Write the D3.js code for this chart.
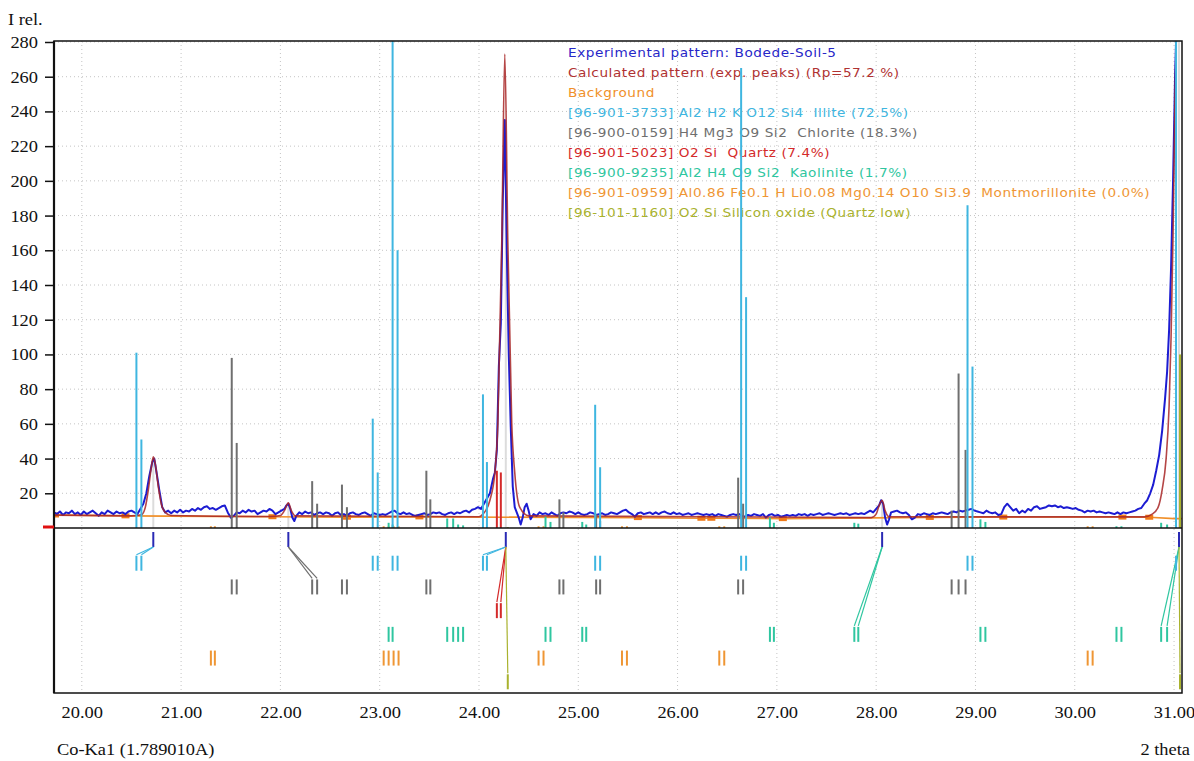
<!DOCTYPE html>
<html>
<head>
<meta charset="utf-8">
<script src="https://cdn.jsdelivr.net/npm/d3@7"></script>
<style>
  body { margin: 0; background: #fff; }
  svg { display: block; }
</style>
</head>
<body>
<div id="chart"></div>
<script>
// ---- data ----
const xTicks = [20, 21, 22, 23, 24, 25, 26, 27, 28, 29, 30, 31];
const yTicks = [20, 40, 60, 80, 100, 120, 140, 160, 180, 200, 220, 240, 260, 280];

// experimental pattern [2theta, I]
const experimental = [
  [19.72,9],[19.75,8],[19.78,9.5],[19.81,7.5],[19.84,9],[19.87,8.5],[19.90,10],[19.93,8],[19.96,9],[19.99,7.5],
  [20.02,9.5],[20.05,8],[20.08,9],[20.11,10],[20.14,8.5],[20.17,7],[20.20,9],[20.23,8],[20.26,10],[20.29,9],
  [20.32,8],[20.35,9.5],[20.38,8.5],[20.41,9],[20.44,8],[20.47,9.5],[20.50,10],[20.53,9],[20.56,8],[20.59,11],
  [20.62,14],[20.65,20],[20.68,30],[20.71,38],[20.73,40],[20.75,33],[20.78,22],[20.81,12],[20.84,9],[20.87,10],
  [20.90,8.5],[20.93,10],[20.96,9],[20.99,10.5],[21.02,9],[21.05,10],[21.08,9.5],[21.11,11],[21.14,10],[21.17,11.5],
  [21.20,10.5],[21.23,12],[21.26,12.5],[21.29,11],[21.32,11.5],[21.35,10.5],[21.38,11.5],[21.41,12.5],[21.44,13],[21.47,9],
  [21.50,6],[21.53,7],[21.56,9],[21.59,8.5],[21.62,10],[21.65,9],[21.68,10.5],[21.71,9.5],[21.74,10],[21.77,8],
  [21.80,9],[21.83,10],[21.86,9.5],[21.89,11],[21.92,10],[21.95,8],[21.98,9],[22.01,10],[22.04,11],[22.06,13],
  [22.08,14],[22.10,11],[22.12,6],[22.14,4],[22.16,7],[22.19,9],[22.22,8],[22.25,9.5],[22.28,8.5],[22.31,9],
  [22.34,7.5],[22.37,8.5],[22.40,9],[22.43,8],[22.46,9],[22.49,8.5],[22.52,7],[22.55,8.5],[22.58,9],[22.61,7.5],
  [22.64,8],[22.67,7],[22.70,8.5],[22.73,9],[22.76,8],[22.79,7.5],[22.82,8.5],[22.85,9],[22.88,8],[22.91,7],
  [22.94,8.5],[22.97,8],[23.00,7.5],[23.03,8],[23.06,7.5],[23.09,8.5],[23.12,9.5],[23.15,10],[23.18,8.5],[23.21,8],
  [23.24,9],[23.27,8],[23.30,8.5],[23.33,7.5],[23.36,7],[23.39,7.5],[23.42,8],[23.45,8.5],[23.48,7.5],[23.51,8],
  [23.54,9],[23.57,8.5],[23.60,9],[23.63,8],[23.66,7.5],[23.69,8.5],[23.72,9],[23.75,8],[23.78,9],[23.81,8.5],
  [23.84,9.5],[23.87,10],[23.90,9],[23.93,10.5],[23.96,11],[23.99,12],[24.02,11],[24.05,14],[24.08,17],[24.11,20],
  [24.14,28],[24.16,32],[24.18,45],[24.20,93],[24.22,118],[24.24,190],[24.26,235],[24.28,160],[24.30,100],[24.32,58],
  [24.34,24],[24.36,12],[24.38,9],[24.40,6],[24.42,2],[24.44,6],[24.46,12],[24.48,14],[24.50,10],[24.52,5],
  [24.55,8],[24.58,7],[24.61,9],[24.64,8],[24.67,8.5],[24.70,7.5],[24.73,9],[24.76,8],[24.79,7],[24.82,8.5],
  [24.85,9],[24.88,8.5],[24.91,9.5],[24.94,9],[24.97,8],[25.00,9],[25.03,8],[25.06,7.5],[25.09,8],[25.12,9],
  [25.15,8.5],[25.18,7.5],[25.21,8],[25.24,8.5],[25.27,7.5],[25.30,8],[25.33,9],[25.36,8.5],[25.39,8],[25.42,9],
  [25.45,10],[25.48,10.5],[25.51,9],[25.54,8],[25.57,6.5],[25.60,8.5],[25.63,9],[25.66,8],[25.69,8.5],[25.72,9],
  [25.75,8],[25.78,9],[25.81,8],[25.84,9],[25.87,9.5],[25.90,8.5],[25.93,8],[25.96,9],[25.99,8],[26.02,8.5],
  [26.05,7.5],[26.08,8],[26.11,8.5],[26.14,7.5],[26.17,8],[26.20,8.5],[26.23,8],[26.26,7.5],[26.29,8],[26.32,7.5],
  [26.35,8],[26.38,7],[26.41,8],[26.44,7.5],[26.47,7],[26.50,6.5],[26.53,7.5],[26.56,8],[26.59,7.5],[26.62,8],
  [26.65,7],[26.68,6.5],[26.71,7.5],[26.74,7],[26.77,8],[26.80,7.5],[26.83,7],[26.86,8],[26.89,6],[26.92,7.5],
  [26.95,8],[26.98,7],[27.01,7.5],[27.04,6.5],[27.07,7],[27.10,7.5],[27.13,7],[27.16,7.5],[27.19,7],[27.22,8],
  [27.25,7.5],[27.28,8],[27.31,7],[27.34,8],[27.37,7.5],[27.40,8],[27.43,8.5],[27.46,7.5],[27.49,8],[27.52,8.5],
  [27.55,8],[27.58,7.5],[27.61,8],[27.64,8.5],[27.67,8],[27.70,8.5],[27.73,7.5],[27.76,8],[27.79,8.5],[27.82,8],
  [27.85,8.5],[27.88,8],[27.91,9],[27.94,10],[27.97,9],[28.00,11],[28.03,13],[28.05,16],[28.07,14],[28.09,6],
  [28.11,2],[28.13,5],[28.15,9],[28.18,9.5],[28.21,10],[28.24,9],[28.27,8.5],[28.30,9],[28.33,7.5],[28.36,5],
  [28.39,6],[28.42,8],[28.45,7.5],[28.48,8.5],[28.51,8],[28.54,7.5],[28.57,8.5],[28.60,8],[28.63,8.5],[28.66,9],
  [28.69,8.5],[28.72,8],[28.75,9],[28.78,9.5],[28.81,9],[28.84,10],[28.87,9.5],[28.90,10],[28.93,10.5],[28.96,11],
  [28.99,10],[29.02,9.5],[29.05,9],[29.08,8.5],[29.11,10],[29.14,9],[29.17,8.5],[29.20,9],[29.23,7.5],[29.26,8],
  [29.29,12],[29.32,14],[29.35,12],[29.38,10],[29.41,11],[29.44,8.5],[29.47,10],[29.50,9],[29.53,11],[29.56,10],
  [29.59,12],[29.62,12.5],[29.65,11],[29.68,11.5],[29.71,12],[29.74,13],[29.77,12.5],[29.80,13],[29.83,12],[29.86,12.5],
  [29.89,11.5],[29.92,12],[29.95,11.5],[29.98,11],[30.01,11.5],[30.04,10.5],[30.07,10],[30.10,9],[30.13,10],[30.16,9.5],
  [30.19,10],[30.22,9],[30.25,9.5],[30.28,9],[30.31,8.5],[30.34,9],[30.37,8.5],[30.40,8],[30.43,9],[30.46,8],
  [30.49,9],[30.52,8.5],[30.55,9],[30.58,9.5],[30.61,10],[30.64,11],[30.67,11.5],[30.70,14],[30.73,16],[30.76,20],
  [30.79,25],[30.82,33],[30.85,42],[30.88,56],[30.91,75],[30.93,90],[30.95,114],[30.97,150],[30.99,200],[31.01,260],
  [31.03,300],[31.06,300]
];

// calculated pattern (exp. peaks)
const calculated = [
  [19.72,7.4],[20.50,7.0],[20.60,7.6],[20.64,12],[20.67,22],[20.70,35],[20.72,41],[20.74,37],[20.77,24],[20.80,14],
  [20.84,9],[20.90,7.2],[21.90,6.6],[22.00,7.2],[22.04,10],[22.08,14.5],[22.11,10],[22.15,7],[24.00,6.5],[24.04,8],
  [24.11,16],[24.16,32],[24.19,60],[24.23,166],[24.26,273],[24.29,166],[24.33,60],[24.36,32],[24.41,12],[24.50,7],
  [27.95,6],[28.00,8],[28.03,13],[28.06,16],[28.09,10],[28.13,6.5],[30.70,6.4],[30.78,8],[30.84,12],[30.88,22],
  [30.92,40],[30.95,70],[30.97,110],[30.99,170],[31.01,250],[31.03,300]
];

// background anchor points (drawn with square markers)
const background = [
  [19.73,7.5],[20.44,7.0],[21.92,6.5],[22.67,6.2],[23.40,6.4],[25.60,6.0],[26.24,5.6],[26.34,5.6],
  [27.06,5.4],[28.54,6.1],[29.28,6.3],[30.48,6.3],[30.75,6.2],[31.00,5.4],[31.08,5.4]
];

// reference phases: stick positions and relative intensities
const phaseNames = ["illite", "chlorite", "quartz", "kaolinite", "montmorillonite", "quartzLow"];
const phaseColors = ["#3fb6e0", "#6f6f6f", "#d42a2a", "#2fc6a0", "#ef9634", "#a9b22e"];
const illitePos = [20.55, 20.60, 22.93, 22.98, 23.13, 23.18, 24.04, 24.08, 25.17, 25.22, 26.64, 26.69, 28.92, 28.97, 31.02];
const illiteInt = [101, 51, 63, 32, 300, 160, 77, 38, 71, 35, 265, 133, 186, 93, 300];
const chloritePos = [21.51, 21.56, 22.32, 22.37, 22.62, 22.67, 23.47, 23.51, 24.81, 24.85, 25.18, 25.22, 26.61, 26.66, 28.76, 28.83, 28.90];
const chloriteInt = [98, 49, 27, 14, 25, 12, 33, 16.5, 16.5, 9, 8, 4, 29, 14, 10, 89, 45];
const quartzPos = [24.18, 24.22];
const quartzInt = [33, 32];
const kaolinitePos = [23.09, 23.13, 23.68, 23.74, 23.79, 23.84, 24.67, 24.72, 25.04, 25.08, 26.93, 26.97, 27.78, 27.82, 29.05, 29.10, 30.42, 30.47, 30.87, 30.93];
const kaoliniteInt = [3, 2, 5.5, 5.5, 2, 1.5, 6.5, 3.5, 3.5, 2, 6, 3, 3, 2.5, 5, 3.5, 1, 1, 3, 2];
const montPos = [21.30, 21.34, 23.04, 23.09, 23.14, 23.19, 24.60, 24.65, 25.44, 25.49, 26.42, 26.47, 30.13, 30.18];
const montInt = [1, 1, 1, 1, 1, 1, 1, 1, 1, 1, 1, 1, 1, 1];
const quartzLowPos = [24.29, 31.06];
const quartzLowInt = [0.5, 100];

// experimental peaks found and the reference lines they were matched to
const peakPos = [20.72, 22.08, 24.27, 28.06, 31.05];
const peakInt = [40, 14, 235, 16, 300];
const matches = [
  { peak: 20.72, phase: "illite", to: [20.55, 20.60] },
  { peak: 22.08, phase: "chlorite", to: [22.32, 22.37] },
  { peak: 24.27, phase: "illite", to: [24.04, 24.08] },
  { peak: 24.27, phase: "quartz", to: [24.18, 24.22] },
  { peak: 24.27, phase: "quartzLow", to: [24.29] },
  { peak: 28.06, phase: "kaolinite", to: [27.78, 27.82] },
  { peak: 31.05, phase: "kaolinite", to: [30.87, 30.93] },
  { peak: 31.05, phase: "quartzLow", to: [31.06] }
];

const legendLines = [
  "Experimental pattern: Bodede-Soil-5",
  "Calculated pattern (exp. peaks) (Rp=57.2 %)",
  "Background",
  "[96-901-3733] Al2 H2 K O12 Si4  Illite (72.5%)",
  "[96-900-0159] H4 Mg3 O9 Si2  Chlorite (18.3%)",
  "[96-901-5023] O2 Si  Quartz (7.4%)",
  "[96-900-9235] Al2 H4 O9 Si2  Kaolinite (1.7%)",
  "[96-901-0959] Al0.86 Fe0.1 H Li0.08 Mg0.14 O10 Si3.9  Montmorillonite (0.0%)",
  "[96-101-1160] O2 Si Silicon oxide (Quartz low)"
];
const legendColors = ["#2727c8", "#b03232", "#f0902a", "#3fb6e0", "#6f6f6f", "#d42a2a", "#2fc6a0", "#ef9634", "#a9b22e"];

// ---- layout ----
const W = 1194, H = 761;
const plot = { left: 54, right: 1182, top: 41, zero: 528, bottom: 693 };
const serif = "'Liberation Serif', 'Times New Roman', serif";
const sx = 1.15; // the original type is slightly wide

const svg = d3.select("#chart").append("svg").attr("width", W).attr("height", H);

const x = d3.scaleLinear().domain([19.72, 31.08]).range([plot.left, plot.right]);
const y = d3.scaleLinear().domain([0, 280]).range([plot.zero, 42]);

// bottom panel rows: found peaks, then one row per phase
const row = d3.scaleBand()
  .domain(["peaks"].concat(phaseNames))
  .range([plot.zero + 1, plot.bottom + 2]);
const tickLen = 15;

svg.append("clipPath").attr("id", "clipTop")
  .append("rect")
  .attr("x", plot.left).attr("y", plot.top)
  .attr("width", plot.right - plot.left).attr("height", plot.zero - plot.top);

// grid
const grid = svg.append("g").attr("stroke", "#c4c4c4").attr("stroke-dasharray", "1,3");
grid.selectAll("line.gx").data(xTicks).join("line")
  .attr("class", "gx")
  .attr("x1", (d) => x(d)).attr("x2", (d) => x(d))
  .attr("y1", plot.top).attr("y2", plot.bottom);
grid.selectAll("line.gy").data(yTicks).join("line")
  .attr("class", "gy")
  .attr("x1", plot.left).attr("x2", plot.right)
  .attr("y1", (d) => y(d)).attr("y2", (d) => y(d));

// legend (sits under the sticks)
svg.append("g")
  .selectAll("text").data(legendLines).join("text")
  .attr("transform", (d, i) => `translate(568,${56.5 + i * 20.1}) scale(1.135,1)`)
  .attr("fill", (d, i) => legendColors[i])
  .attr("font-family", "'DejaVu Sans', Verdana, sans-serif")
  .attr("font-size", 12)
  .attr("letter-spacing", 0.5)
  .style("white-space", "pre")
  .text((d) => d);

const upper = svg.append("g").attr("clip-path", "url(#clipTop)");

// faint lines under the found peaks
upper.selectAll("line.pk").data(peakPos).join("line")
  .attr("class", "pk")
  .attr("x1", (d) => x(d)).attr("x2", (d) => x(d))
  .attr("y1", y(0)).attr("y2", (d, i) => y(peakInt[i]))
  .attr("stroke", "#dcdcdc").attr("stroke-width", 2);

// background
upper.append("path").datum(background)
  .attr("fill", "none").attr("stroke", "#f0902a").attr("stroke-width", 1.6)
  .attr("d", d3.line().x((d) => x(d[0])).y((d) => y(d[1])));
upper.selectAll("rect.bg").data(background.slice(0, -2)).join("rect")
  .attr("class", "bg")
  .attr("x", (d) => x(d[0]) - 4).attr("y", (d) => y(d[1]) - 2.5)
  .attr("width", 8).attr("height", 5)
  .attr("fill", "#f07a18");

// experimental and calculated patterns
upper.append("path").datum(experimental)
  .attr("fill", "none").attr("stroke", "#1c1cd2").attr("stroke-width", 2)
  .attr("stroke-linejoin", "round")
  .attr("d", d3.line().x((d) => x(d[0])).y((d) => y(d[1])));
upper.append("path").datum(calculated)
  .attr("fill", "none").attr("stroke", "#a82626").attr("stroke-width", 1.6)
  .attr("stroke-opacity", 0.85)
  .attr("d", d3.line().curve(d3.curveMonotoneX).x((d) => x(d[0])).y((d) => y(d[1])));

// phase sticks
const phaseSticks = [
  [illitePos, illiteInt], [chloritePos, chloriteInt], [quartzPos, quartzInt],
  [kaolinitePos, kaoliniteInt], [montPos, montInt], [quartzLowPos, quartzLowInt]
];
const drawOrder = [5, 4, 3, 2, 1, 0];
drawOrder.forEach((p) => {
  const [pos, inten] = phaseSticks[p];
  upper.append("g").selectAll("line").data(pos).join("line")
    .attr("x1", (d) => x(d)).attr("x2", (d) => x(d))
    .attr("y1", y(0)).attr("y2", (d, i) => y(inten[i]))
    .attr("stroke", phaseColors[p]).attr("stroke-width", 2);
});

// bottom panel: matched peaks and reference line positions
const lower = svg.append("g");
lower.selectAll("line.pm").data(peakPos).join("line")
  .attr("class", "pm")
  .attr("x1", (d) => x(d)).attr("x2", (d) => x(d))
  .attr("y1", row("peaks") + 3).attr("y2", row("peaks") + 3 + tickLen)
  .attr("stroke", "#2a2ab4").attr("stroke-width", 2);

matches.forEach((m) => {
  const p = phaseNames.indexOf(m.phase);
  lower.append("g").selectAll("line").data(m.to).join("line")
    .attr("x1", x(m.peak)).attr("y1", row("peaks") + 3 + tickLen)
    .attr("x2", (d) => x(d)).attr("y2", row(m.phase) + 2)
    .attr("stroke", phaseColors[p]).attr("stroke-width", 1.2);
});

phaseNames.forEach((name, p) => {
  lower.append("g").selectAll("line").data(phaseSticks[p][0]).join("line")
    .attr("x1", (d) => x(d)).attr("x2", (d) => x(d))
    .attr("y1", row(name) + 3).attr("y2", row(name) + 3 + tickLen)
    .attr("stroke", phaseColors[p]).attr("stroke-width", 2);
});

// frame and separator
svg.append("rect")
  .attr("x", plot.left).attr("y", plot.top)
  .attr("width", plot.right - plot.left).attr("height", plot.bottom - plot.top)
  .attr("fill", "none").attr("stroke", "#111").attr("stroke-width", 1.5);
svg.append("line")
  .attr("x1", plot.left).attr("x2", plot.right)
  .attr("y1", y(0)).attr("y2", y(0))
  .attr("stroke", "#111").attr("stroke-width", 1.5);
svg.append("line")
  .attr("x1", plot.left).attr("x2", plot.left)
  .attr("y1", plot.top).attr("y2", plot.bottom)
  .attr("stroke", "#111").attr("stroke-width", 2.2);
// zero marker
svg.append("line")
  .attr("x1", plot.left - 11).attr("x2", plot.left)
  .attr("y1", y(0) - 1).attr("y2", y(0) - 1)
  .attr("stroke", "#e01010").attr("stroke-width", 3);

// y axis
const yAxis = svg.append("g")
  .attr("transform", `translate(${plot.left},0)`)
  .call(d3.axisLeft(y).tickValues(yTicks).tickSize(9).tickFormat(d3.format("d")));
yAxis.select(".domain").remove();
yAxis.selectAll(".tick line").attr("stroke", "#111").attr("stroke-width", 1.5);
yAxis.selectAll(".tick text")
  .attr("x", null).attr("dy", null)
  .attr("transform", `translate(-16,5.5) scale(${sx},1)`)
  .attr("font-family", serif).attr("font-size", 16).attr("fill", "#111");

// x axis labels only
const xAxis = svg.append("g")
  .attr("transform", `translate(0,${plot.bottom})`)
  .call(d3.axisBottom(x).tickValues(xTicks).tickSize(0).tickFormat(d3.format(".2f")));
xAxis.select(".domain").remove();
xAxis.selectAll(".tick text")
  .attr("y", null).attr("dy", null)
  .attr("transform", `translate(0,25) scale(${sx},1)`)
  .attr("font-family", serif).attr("font-size", 16).attr("fill", "#111");

// titles
const title = (tx, ty, str, anchor) => svg.append("text")
  .attr("transform", `translate(${tx},${ty}) scale(${sx},1)`)
  .attr("text-anchor", anchor)
  .attr("font-family", serif).attr("font-size", 16).attr("fill", "#111")
  .text(str);
title(8, 25, "I rel.", "start");
title(57, 755, "Co-Ka1 (1.789010A)", "start");
title(1190, 755, "2 theta", "end");
</script>
</body>
</html>
